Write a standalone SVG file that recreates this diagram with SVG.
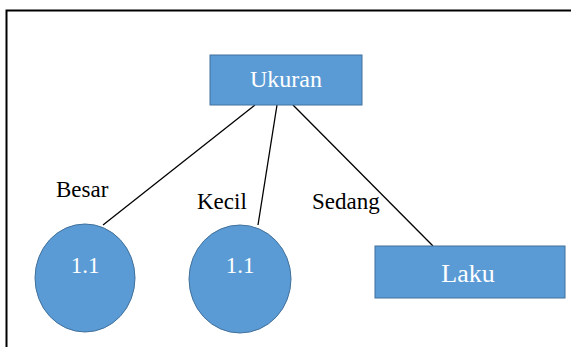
<svg xmlns="http://www.w3.org/2000/svg" width="571" height="347" viewBox="0 0 571 347">
<style>
.shape{fill:#5B9BD5;stroke:#41719C;stroke-width:1}
.lbl{font-family:"Liberation Serif","Times New Roman",serif;fill:#000;font-size:23px}
.wt{font-family:"Liberation Serif","Times New Roman",serif;fill:#fff;text-anchor:middle}
.num{font-family:"Liberation Serif","Times New Roman",serif;fill:#fff;text-anchor:middle;font-size:23px}
.edge{stroke:#000;stroke-width:1.3;fill:none}
</style>
<rect width="571" height="347" fill="#fff"/>
<path d="M6.5,347 V10.5 H571" fill="none" stroke="#000" stroke-width="2"/>
<g id="connectors">
<line class="edge" x1="255" y1="105" x2="103" y2="225"/>
<line class="edge" x1="277" y1="105" x2="258" y2="225"/>
<line class="edge" x1="293" y1="105" x2="433" y2="246"/>
</g>
<g id="ukuran">
<rect class="shape" x="210" y="55" width="152" height="50"/>
<text class="wt" x="286" y="87" font-size="24">Ukuran</text>
</g>
<g id="besar-node">
<ellipse class="shape" cx="85" cy="278" rx="50" ry="54"/>
<text class="num" x="85" y="273">1.1</text>
</g>
<g id="kecil-node">
<ellipse class="shape" cx="240" cy="279" rx="51" ry="54"/>
<text class="num" x="240" y="273">1.1</text>
</g>
<g id="laku">
<rect class="shape" x="375" y="246" width="190" height="52"/>
<text class="wt" x="468" y="282" font-size="26">Laku</text>
</g>
<g id="labels">
<text class="lbl" x="56" y="197">Besar</text>
<text class="lbl" x="197" y="209">Kecil</text>
<text class="lbl" x="312" y="209">Sedang</text>
</g>
</svg>
